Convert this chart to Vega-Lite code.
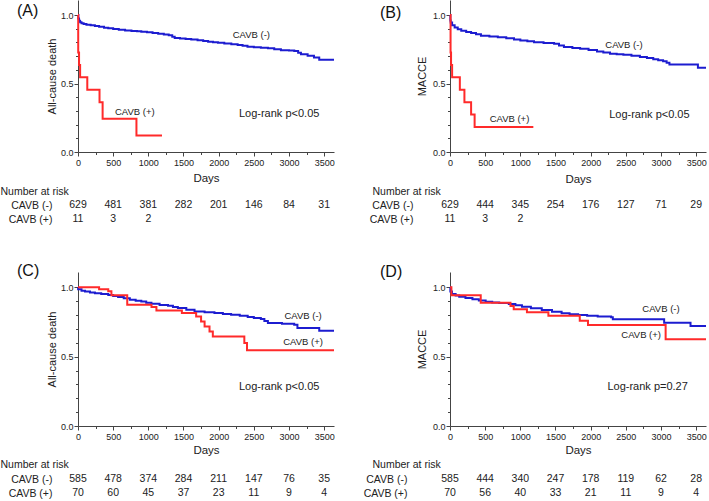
{
  "$schema": "https://vega.github.io/schema/vega-lite/v6.json",
  "padding": {"left": 0, "top": 0, "right": 0, "bottom": 0},
  "config": {
    "font": "Liberation Sans",
    "view": {"stroke": null},
    "axis": {"domainColor": "#444", "tickColor": "#444", "labelColor": "#222", "titleColor": "#222", "grid": false, "labelFontSize": 9, "titleFontWeight": "normal", "labelFont": "Liberation Sans", "titleFont": "Liberation Sans"},
    "title": {"font": "Liberation Sans", "fontWeight": "normal", "color": "#111"},
    "text": {"font": "Liberation Sans", "color": "#222"}
  },
  "datasets": {
    "kmA": [
      {"group": "CAVB (-)", "day": 0, "surv": 1.0}, {"group": "CAVB (-)", "day": 5, "surv": 0.975}, {"group": "CAVB (-)", "day": 15, "surv": 0.958}, {"group": "CAVB (-)", "day": 30, "surv": 0.947}, {"group": "CAVB (-)", "day": 50, "surv": 0.94}, {"group": "CAVB (-)", "day": 80, "surv": 0.935}, {"group": "CAVB (-)", "day": 120, "surv": 0.93}, {"group": "CAVB (-)", "day": 180, "surv": 0.925}, {"group": "CAVB (-)", "day": 240, "surv": 0.92}, {"group": "CAVB (-)", "day": 300, "surv": 0.914}, {"group": "CAVB (-)", "day": 370, "surv": 0.908}, {"group": "CAVB (-)", "day": 430, "surv": 0.903}, {"group": "CAVB (-)", "day": 500, "surv": 0.898}, {"group": "CAVB (-)", "day": 580, "surv": 0.893}, {"group": "CAVB (-)", "day": 670, "surv": 0.888}, {"group": "CAVB (-)", "day": 760, "surv": 0.884}, {"group": "CAVB (-)", "day": 840, "surv": 0.881}, {"group": "CAVB (-)", "day": 900, "surv": 0.878}, {"group": "CAVB (-)", "day": 980, "surv": 0.874}, {"group": "CAVB (-)", "day": 1060, "surv": 0.869}, {"group": "CAVB (-)", "day": 1140, "surv": 0.864}, {"group": "CAVB (-)", "day": 1220, "surv": 0.858}, {"group": "CAVB (-)", "day": 1290, "surv": 0.852}, {"group": "CAVB (-)", "day": 1340, "surv": 0.842}, {"group": "CAVB (-)", "day": 1375, "surv": 0.833}, {"group": "CAVB (-)", "day": 1450, "surv": 0.829}, {"group": "CAVB (-)", "day": 1530, "surv": 0.826}, {"group": "CAVB (-)", "day": 1610, "surv": 0.822}, {"group": "CAVB (-)", "day": 1700, "surv": 0.816}, {"group": "CAVB (-)", "day": 1780, "surv": 0.811}, {"group": "CAVB (-)", "day": 1850, "surv": 0.806}, {"group": "CAVB (-)", "day": 1920, "surv": 0.801}, {"group": "CAVB (-)", "day": 1990, "surv": 0.797}, {"group": "CAVB (-)", "day": 2080, "surv": 0.792}, {"group": "CAVB (-)", "day": 2180, "surv": 0.787}, {"group": "CAVB (-)", "day": 2270, "surv": 0.782}, {"group": "CAVB (-)", "day": 2340, "surv": 0.775}, {"group": "CAVB (-)", "day": 2410, "surv": 0.768}, {"group": "CAVB (-)", "day": 2500, "surv": 0.765}, {"group": "CAVB (-)", "day": 2600, "surv": 0.761}, {"group": "CAVB (-)", "day": 2700, "surv": 0.757}, {"group": "CAVB (-)", "day": 2790, "surv": 0.75}, {"group": "CAVB (-)", "day": 2885, "surv": 0.743}, {"group": "CAVB (-)", "day": 3000, "surv": 0.741}, {"group": "CAVB (-)", "day": 3075, "surv": 0.737}, {"group": "CAVB (-)", "day": 3130, "surv": 0.725}, {"group": "CAVB (-)", "day": 3170, "surv": 0.714}, {"group": "CAVB (-)", "day": 3265, "surv": 0.702}, {"group": "CAVB (-)", "day": 3355, "surv": 0.69}, {"group": "CAVB (-)", "day": 3430, "surv": 0.673}, {"group": "CAVB (-)", "day": 3640, "surv": 0.673},
      {"group": "CAVB (+)", "day": 0, "surv": 1.0}, {"group": "CAVB (+)", "day": 3, "surv": 0.727}, {"group": "CAVB (+)", "day": 15, "surv": 0.636}, {"group": "CAVB (+)", "day": 30, "surv": 0.545}, {"group": "CAVB (+)", "day": 132, "surv": 0.455}, {"group": "CAVB (+)", "day": 306, "surv": 0.364}, {"group": "CAVB (+)", "day": 350, "surv": 0.243}, {"group": "CAVB (+)", "day": 831, "surv": 0.121}, {"group": "CAVB (+)", "day": 1194, "surv": 0.121}
    ],
    "kmB": [
      {"group": "CAVB (-)", "day": 0, "surv": 1.0}, {"group": "CAVB (-)", "day": 5, "surv": 0.96}, {"group": "CAVB (-)", "day": 10, "surv": 0.945}, {"group": "CAVB (-)", "day": 30, "surv": 0.925}, {"group": "CAVB (-)", "day": 66, "surv": 0.91}, {"group": "CAVB (-)", "day": 110, "surv": 0.897}, {"group": "CAVB (-)", "day": 160, "surv": 0.885}, {"group": "CAVB (-)", "day": 230, "surv": 0.876}, {"group": "CAVB (-)", "day": 300, "surv": 0.869}, {"group": "CAVB (-)", "day": 370, "surv": 0.859}, {"group": "CAVB (-)", "day": 440, "surv": 0.849}, {"group": "CAVB (-)", "day": 560, "surv": 0.843}, {"group": "CAVB (-)", "day": 680, "surv": 0.838}, {"group": "CAVB (-)", "day": 800, "surv": 0.83}, {"group": "CAVB (-)", "day": 910, "surv": 0.821}, {"group": "CAVB (-)", "day": 1000, "surv": 0.815}, {"group": "CAVB (-)", "day": 1100, "surv": 0.808}, {"group": "CAVB (-)", "day": 1195, "surv": 0.802}, {"group": "CAVB (-)", "day": 1330, "surv": 0.796}, {"group": "CAVB (-)", "day": 1480, "surv": 0.79}, {"group": "CAVB (-)", "day": 1550, "surv": 0.778}, {"group": "CAVB (-)", "day": 1620, "surv": 0.766}, {"group": "CAVB (-)", "day": 1740, "surv": 0.76}, {"group": "CAVB (-)", "day": 1850, "surv": 0.754}, {"group": "CAVB (-)", "day": 1970, "surv": 0.745}, {"group": "CAVB (-)", "day": 2090, "surv": 0.734}, {"group": "CAVB (-)", "day": 2180, "surv": 0.726}, {"group": "CAVB (-)", "day": 2275, "surv": 0.718}, {"group": "CAVB (-)", "day": 2370, "surv": 0.714}, {"group": "CAVB (-)", "day": 2465, "surv": 0.711}, {"group": "CAVB (-)", "day": 2580, "surv": 0.703}, {"group": "CAVB (-)", "day": 2700, "surv": 0.694}, {"group": "CAVB (-)", "day": 2800, "surv": 0.686}, {"group": "CAVB (-)", "day": 2890, "surv": 0.677}, {"group": "CAVB (-)", "day": 2960, "surv": 0.67}, {"group": "CAVB (-)", "day": 3030, "surv": 0.663}, {"group": "CAVB (-)", "day": 3080, "surv": 0.652}, {"group": "CAVB (-)", "day": 3120, "surv": 0.639}, {"group": "CAVB (-)", "day": 3525, "surv": 0.615}, {"group": "CAVB (-)", "day": 3640, "surv": 0.615},
      {"group": "CAVB (+)", "day": 0, "surv": 1.0}, {"group": "CAVB (+)", "day": 8, "surv": 0.727}, {"group": "CAVB (+)", "day": 15, "surv": 0.636}, {"group": "CAVB (+)", "day": 30, "surv": 0.545}, {"group": "CAVB (+)", "day": 140, "surv": 0.455}, {"group": "CAVB (+)", "day": 205, "surv": 0.364}, {"group": "CAVB (+)", "day": 300, "surv": 0.273}, {"group": "CAVB (+)", "day": 350, "surv": 0.182}, {"group": "CAVB (+)", "day": 1185, "surv": 0.182}
    ],
    "kmC": [
      {"group": "CAVB (-)", "day": 0, "surv": 1.0}, {"group": "CAVB (-)", "day": 2, "surv": 0.985}, {"group": "CAVB (-)", "day": 50, "surv": 0.975}, {"group": "CAVB (-)", "day": 100, "surv": 0.969}, {"group": "CAVB (-)", "day": 170, "surv": 0.963}, {"group": "CAVB (-)", "day": 240, "surv": 0.957}, {"group": "CAVB (-)", "day": 330, "surv": 0.951}, {"group": "CAVB (-)", "day": 430, "surv": 0.945}, {"group": "CAVB (-)", "day": 500, "surv": 0.937}, {"group": "CAVB (-)", "day": 570, "surv": 0.929}, {"group": "CAVB (-)", "day": 650, "surv": 0.92}, {"group": "CAVB (-)", "day": 737, "surv": 0.91}, {"group": "CAVB (-)", "day": 820, "surv": 0.903}, {"group": "CAVB (-)", "day": 900, "surv": 0.897}, {"group": "CAVB (-)", "day": 970, "surv": 0.889}, {"group": "CAVB (-)", "day": 1044, "surv": 0.881}, {"group": "CAVB (-)", "day": 1160, "surv": 0.873}, {"group": "CAVB (-)", "day": 1280, "surv": 0.866}, {"group": "CAVB (-)", "day": 1350, "surv": 0.858}, {"group": "CAVB (-)", "day": 1420, "surv": 0.85}, {"group": "CAVB (-)", "day": 1540, "surv": 0.838}, {"group": "CAVB (-)", "day": 1657, "surv": 0.826}, {"group": "CAVB (-)", "day": 1800, "surv": 0.82}, {"group": "CAVB (-)", "day": 1940, "surv": 0.814}, {"group": "CAVB (-)", "day": 2060, "surv": 0.808}, {"group": "CAVB (-)", "day": 2177, "surv": 0.802}, {"group": "CAVB (-)", "day": 2300, "surv": 0.794}, {"group": "CAVB (-)", "day": 2413, "surv": 0.785}, {"group": "CAVB (-)", "day": 2500, "surv": 0.778}, {"group": "CAVB (-)", "day": 2600, "surv": 0.771}, {"group": "CAVB (-)", "day": 2650, "surv": 0.757}, {"group": "CAVB (-)", "day": 2700, "surv": 0.742}, {"group": "CAVB (-)", "day": 2900, "surv": 0.737}, {"group": "CAVB (-)", "day": 3074, "surv": 0.73}, {"group": "CAVB (-)", "day": 3120, "surv": 0.706}, {"group": "CAVB (-)", "day": 3430, "surv": 0.687}, {"group": "CAVB (-)", "day": 3640, "surv": 0.687},
      {"group": "CAVB (+)", "day": 0, "surv": 1.0}, {"group": "CAVB (+)", "day": 300, "surv": 0.986}, {"group": "CAVB (+)", "day": 430, "surv": 0.971}, {"group": "CAVB (+)", "day": 475, "surv": 0.943}, {"group": "CAVB (+)", "day": 700, "surv": 0.874}, {"group": "CAVB (+)", "day": 1045, "surv": 0.857}, {"group": "CAVB (+)", "day": 1115, "surv": 0.833}, {"group": "CAVB (+)", "day": 1477, "surv": 0.814}, {"group": "CAVB (+)", "day": 1680, "surv": 0.79}, {"group": "CAVB (+)", "day": 1750, "surv": 0.754}, {"group": "CAVB (+)", "day": 1800, "surv": 0.718}, {"group": "CAVB (+)", "day": 1870, "surv": 0.682}, {"group": "CAVB (+)", "day": 1917, "surv": 0.646}, {"group": "CAVB (+)", "day": 2365, "surv": 0.599}, {"group": "CAVB (+)", "day": 2403, "surv": 0.546}, {"group": "CAVB (+)", "day": 3640, "surv": 0.546}
    ],
    "kmD": [
      {"group": "CAVB (-)", "day": 0, "surv": 1.0}, {"group": "CAVB (-)", "day": 5, "surv": 0.97}, {"group": "CAVB (-)", "day": 28, "surv": 0.952}, {"group": "CAVB (-)", "day": 80, "surv": 0.94}, {"group": "CAVB (-)", "day": 131, "surv": 0.932}, {"group": "CAVB (-)", "day": 220, "surv": 0.922}, {"group": "CAVB (-)", "day": 319, "surv": 0.913}, {"group": "CAVB (-)", "day": 410, "surv": 0.905}, {"group": "CAVB (-)", "day": 507, "surv": 0.896}, {"group": "CAVB (-)", "day": 600, "surv": 0.89}, {"group": "CAVB (-)", "day": 700, "surv": 0.886}, {"group": "CAVB (-)", "day": 836, "surv": 0.88}, {"group": "CAVB (-)", "day": 930, "surv": 0.87}, {"group": "CAVB (-)", "day": 1023, "surv": 0.86}, {"group": "CAVB (-)", "day": 1150, "surv": 0.849}, {"group": "CAVB (-)", "day": 1305, "surv": 0.836}, {"group": "CAVB (-)", "day": 1450, "surv": 0.823}, {"group": "CAVB (-)", "day": 1587, "surv": 0.812}, {"group": "CAVB (-)", "day": 1700, "surv": 0.806}, {"group": "CAVB (-)", "day": 1822, "surv": 0.8}, {"group": "CAVB (-)", "day": 1950, "surv": 0.795}, {"group": "CAVB (-)", "day": 2100, "surv": 0.79}, {"group": "CAVB (-)", "day": 2291, "surv": 0.784}, {"group": "CAVB (-)", "day": 2315, "surv": 0.769}, {"group": "CAVB (-)", "day": 3045, "surv": 0.745}, {"group": "CAVB (-)", "day": 3420, "surv": 0.721}, {"group": "CAVB (-)", "day": 3640, "surv": 0.721},
      {"group": "CAVB (+)", "day": 0, "surv": 1.0}, {"group": "CAVB (+)", "day": 20, "surv": 0.943}, {"group": "CAVB (+)", "day": 437, "surv": 0.889}, {"group": "CAVB (+)", "day": 860, "surv": 0.865}, {"group": "CAVB (+)", "day": 906, "surv": 0.841}, {"group": "CAVB (+)", "day": 1094, "surv": 0.82}, {"group": "CAVB (+)", "day": 1399, "surv": 0.795}, {"group": "CAVB (+)", "day": 1845, "surv": 0.759}, {"group": "CAVB (+)", "day": 1962, "surv": 0.728}, {"group": "CAVB (+)", "day": 3066, "surv": 0.625}, {"group": "CAVB (+)", "day": 3640, "surv": 0.625}
    ],
    "labA": [{"day": 2465, "surv": 0.857, "text": "CAVB (-)"}, {"day": 807, "surv": 0.29, "text": "CAVB (+)"}],
    "lrA": [{"day": 2860, "surv": 0.276, "text": "Log-rank  p<0.05"}],
    "labB": [{"day": 2473, "surv": 0.785, "text": "CAVB (-)"}, {"day": 846, "surv": 0.239, "text": "CAVB (+)"}],
    "lrB": [{"day": 2835, "surv": 0.27, "text": "Log-rank  p<0.05"}],
    "labC": [{"day": 3200, "surv": 0.79, "text": "CAVB (-)"}, {"day": 3200, "surv": 0.603, "text": "CAVB (+)"}],
    "lrC": [{"day": 2860, "surv": 0.283, "text": "Log-rank  p<0.05"}],
    "labD": [{"day": 3000, "surv": 0.841, "text": "CAVB (-)"}, {"day": 2718, "surv": 0.656, "text": "CAVB (+)"}],
    "lrD": [{"day": 2810, "surv": 0.279, "text": "Log-rank  p=0.27"}],
    "riskA": [
      {"group": "CAVB (-)", "day": 0, "n": 629}, {"group": "CAVB (-)", "day": 500, "n": 481}, {"group": "CAVB (-)", "day": 1000, "n": 381}, {"group": "CAVB (-)", "day": 1500, "n": 282}, {"group": "CAVB (-)", "day": 2000, "n": 201}, {"group": "CAVB (-)", "day": 2500, "n": 146}, {"group": "CAVB (-)", "day": 3000, "n": 84}, {"group": "CAVB (-)", "day": 3500, "n": 31},
      {"group": "CAVB (+)", "day": 0, "n": 11}, {"group": "CAVB (+)", "day": 500, "n": 3}, {"group": "CAVB (+)", "day": 1000, "n": 2}
    ],
    "riskB": [
      {"group": "CAVB (-)", "day": 0, "n": 629}, {"group": "CAVB (-)", "day": 500, "n": 444}, {"group": "CAVB (-)", "day": 1000, "n": 345}, {"group": "CAVB (-)", "day": 1500, "n": 254}, {"group": "CAVB (-)", "day": 2000, "n": 176}, {"group": "CAVB (-)", "day": 2500, "n": 127}, {"group": "CAVB (-)", "day": 3000, "n": 71}, {"group": "CAVB (-)", "day": 3500, "n": 29},
      {"group": "CAVB (+)", "day": 0, "n": 11}, {"group": "CAVB (+)", "day": 500, "n": 3}, {"group": "CAVB (+)", "day": 1000, "n": 2}
    ],
    "riskC": [
      {"group": "CAVB (-)", "day": 0, "n": 585}, {"group": "CAVB (-)", "day": 500, "n": 478}, {"group": "CAVB (-)", "day": 1000, "n": 374}, {"group": "CAVB (-)", "day": 1500, "n": 284}, {"group": "CAVB (-)", "day": 2000, "n": 211}, {"group": "CAVB (-)", "day": 2500, "n": 147}, {"group": "CAVB (-)", "day": 3000, "n": 76}, {"group": "CAVB (-)", "day": 3500, "n": 35},
      {"group": "CAVB (+)", "day": 0, "n": 70}, {"group": "CAVB (+)", "day": 500, "n": 60}, {"group": "CAVB (+)", "day": 1000, "n": 45}, {"group": "CAVB (+)", "day": 1500, "n": 37}, {"group": "CAVB (+)", "day": 2000, "n": 23}, {"group": "CAVB (+)", "day": 2500, "n": 11}, {"group": "CAVB (+)", "day": 3000, "n": 9}, {"group": "CAVB (+)", "day": 3500, "n": 4}
    ],
    "riskD": [
      {"group": "CAVB (-)", "day": 0, "n": 585}, {"group": "CAVB (-)", "day": 500, "n": 444}, {"group": "CAVB (-)", "day": 1000, "n": 340}, {"group": "CAVB (-)", "day": 1500, "n": 247}, {"group": "CAVB (-)", "day": 2000, "n": 178}, {"group": "CAVB (-)", "day": 2500, "n": 119}, {"group": "CAVB (-)", "day": 3000, "n": 62}, {"group": "CAVB (-)", "day": 3500, "n": 28},
      {"group": "CAVB (+)", "day": 0, "n": 70}, {"group": "CAVB (+)", "day": 500, "n": 56}, {"group": "CAVB (+)", "day": 1000, "n": 40}, {"group": "CAVB (+)", "day": 1500, "n": 33}, {"group": "CAVB (+)", "day": 2000, "n": 21}, {"group": "CAVB (+)", "day": 2500, "n": 11}, {"group": "CAVB (+)", "day": 3000, "n": 9}, {"group": "CAVB (+)", "day": 3500, "n": 4}
    ]
  },
  "columns": 2,
  "spacing": {"row": 46, "column": 116},
  "bounds": "flush",
  "concat": [
    {
      "width": 256, "height": 152,
      "title": {"text": "(A)", "anchor": "start", "frame": "group", "fontSize": 16, "baseline": "middle", "dx": -61, "offset": -27},
      "encoding": {
        "x": {"field": "day", "type": "quantitative", "scale": {"domain": [0, 3640], "nice": false, "zero": false}, "axis": {"title": "Days", "titleFontSize": 11.5, "values": [0, 250, 500, 750, 1000, 1250, 1500, 1750, 2000, 2250, 2500, 2750, 3000, 3250, 3500], "format": "d", "labelExpr": "datum.value % 500 === 0 ? datum.label : ''", "tickSize": {"condition": {"test": "datum.value % 500 === 0", "value": 4}, "value": 2.5}, "labelFlush": false, "labelOverlap": false, "labelPadding": 2, "titlePadding": 5}},
        "y": {"field": "surv", "type": "quantitative", "scale": {"domain": [0, 1.11], "nice": false, "zero": false}, "axis": {"title": "All-cause death", "titleFontSize": 11, "values": [0, 0.1, 0.2, 0.3, 0.4, 0.5, 0.6, 0.7, 0.8, 0.9, 1.0], "format": ".1f", "labelExpr": "(datum.value === 0 || datum.value === 0.5 || datum.value === 1) ? datum.label : ''", "tickSize": {"condition": {"test": "datum.value === 0 || datum.value === 0.5 || datum.value === 1", "value": 4}, "value": 2.5}, "labelFlush": false, "labelOverlap": false, "labelPadding": 1, "titlePadding": 3}}
      },
      "layer": [
        {"data": {"name": "kmA"}, "mark": {"type": "line", "interpolate": "step-after", "strokeWidth": 2}, "encoding": {"color": {"field": "group", "type": "nominal", "scale": {"domain": ["CAVB (-)", "CAVB (+)"], "range": ["#1c1cd0", "#ff2a2a"]}, "legend": null}}},
        {"data": {"name": "labA"}, "mark": {"type": "text", "fontSize": 9.5}, "encoding": {"text": {"field": "text"}}},
        {"data": {"name": "lrA"}, "mark": {"type": "text", "fontSize": 11}, "encoding": {"text": {"field": "text"}}}
      ]
    },
    {
      "width": 256, "height": 152,
      "title": {"text": "(B)", "anchor": "start", "frame": "group", "fontSize": 16, "baseline": "middle", "dx": -70, "offset": -29},
      "encoding": {
        "x": {"field": "day", "type": "quantitative", "scale": {"domain": [0, 3640], "nice": false, "zero": false}, "axis": {"title": "Days", "titleFontSize": 11.5, "values": [0, 250, 500, 750, 1000, 1250, 1500, 1750, 2000, 2250, 2500, 2750, 3000, 3250, 3500], "format": "d", "labelExpr": "datum.value % 500 === 0 ? datum.label : ''", "tickSize": {"condition": {"test": "datum.value % 500 === 0", "value": 4}, "value": 2.5}, "labelFlush": false, "labelOverlap": false, "labelPadding": 2, "titlePadding": 6}},
        "y": {"field": "surv", "type": "quantitative", "scale": {"domain": [0, 1.11], "nice": false, "zero": false}, "axis": {"title": "MACCE", "titleFontSize": 11, "values": [0, 0.1, 0.2, 0.3, 0.4, 0.5, 0.6, 0.7, 0.8, 0.9, 1.0], "format": ".1f", "labelExpr": "(datum.value === 0 || datum.value === 0.5 || datum.value === 1) ? datum.label : ''", "tickSize": {"condition": {"test": "datum.value === 0 || datum.value === 0.5 || datum.value === 1", "value": 4}, "value": 2.5}, "labelFlush": false, "labelOverlap": false, "labelPadding": 1, "titlePadding": 5}}
      },
      "layer": [
        {"data": {"name": "kmB"}, "mark": {"type": "line", "interpolate": "step-after", "strokeWidth": 2}, "encoding": {"color": {"field": "group", "type": "nominal", "scale": {"domain": ["CAVB (-)", "CAVB (+)"], "range": ["#1c1cd0", "#ff2a2a"]}, "legend": null}}},
        {"data": {"name": "labB"}, "mark": {"type": "text", "fontSize": 9.5}, "encoding": {"text": {"field": "text"}}},
        {"data": {"name": "lrB"}, "mark": {"type": "text", "fontSize": 11}, "encoding": {"text": {"field": "text"}}}
      ]
    },
    {
      "width": 256, "height": 28,
      "data": {"name": "riskA"},
      "mark": {"type": "text", "fontSize": 10.5},
      "encoding": {
        "x": {"field": "day", "type": "quantitative", "scale": {"domain": [0, 3640], "nice": false, "zero": false}, "axis": null},
        "y": {"field": "group", "type": "nominal", "sort": ["CAVB (-)", "CAVB (+)"], "axis": {"domain": false, "ticks": false, "labelPadding": 26, "labelFontSize": 10.5, "title": "Number at risk", "titleAngle": 0, "titleAlign": "left", "titleBaseline": "middle", "titleX": -78, "titleY": -7, "titleFontSize": 10.5}},
        "text": {"field": "n", "type": "quantitative"}
      }
    },
    {
      "width": 256, "height": 28,
      "data": {"name": "riskB"},
      "mark": {"type": "text", "fontSize": 10.5},
      "encoding": {
        "x": {"field": "day", "type": "quantitative", "scale": {"domain": [0, 3640], "nice": false, "zero": false}, "axis": null},
        "y": {"field": "group", "type": "nominal", "sort": ["CAVB (-)", "CAVB (+)"], "axis": {"domain": false, "ticks": false, "labelPadding": 37, "labelFontSize": 10.5, "title": "Number at risk", "titleAngle": 0, "titleAlign": "left", "titleBaseline": "middle", "titleX": -78, "titleY": -7, "titleFontSize": 10.5}},
        "text": {"field": "n", "type": "quantitative"}
      }
    },
    {
      "width": 256, "height": 154,
      "title": {"text": "(C)", "anchor": "start", "frame": "group", "fontSize": 16, "baseline": "middle", "dx": -61, "offset": -15},
      "encoding": {
        "x": {"field": "day", "type": "quantitative", "scale": {"domain": [0, 3640], "nice": false, "zero": false}, "axis": {"title": "Days", "titleFontSize": 11.5, "values": [0, 250, 500, 750, 1000, 1250, 1500, 1750, 2000, 2250, 2500, 2750, 3000, 3250, 3500], "format": "d", "labelExpr": "datum.value % 500 === 0 ? datum.label : ''", "tickSize": {"condition": {"test": "datum.value % 500 === 0", "value": 4}, "value": 2.5}, "labelFlush": false, "labelOverlap": false, "labelPadding": 2, "titlePadding": 3}},
        "y": {"field": "surv", "type": "quantitative", "scale": {"domain": [0, 1.11], "nice": false, "zero": false}, "axis": {"title": "All-cause death", "titleFontSize": 11, "values": [0, 0.1, 0.2, 0.3, 0.4, 0.5, 0.6, 0.7, 0.8, 0.9, 1.0], "format": ".1f", "labelExpr": "(datum.value === 0 || datum.value === 0.5 || datum.value === 1) ? datum.label : ''", "tickSize": {"condition": {"test": "datum.value === 0 || datum.value === 0.5 || datum.value === 1", "value": 4}, "value": 2.5}, "labelFlush": false, "labelOverlap": false, "labelPadding": 1, "titlePadding": 3}}
      },
      "layer": [
        {"data": {"name": "kmC"}, "mark": {"type": "line", "interpolate": "step-after", "strokeWidth": 2}, "encoding": {"color": {"field": "group", "type": "nominal", "scale": {"domain": ["CAVB (-)", "CAVB (+)"], "range": ["#1c1cd0", "#ff2a2a"]}, "legend": null}}},
        {"data": {"name": "labC"}, "mark": {"type": "text", "fontSize": 9.5}, "encoding": {"text": {"field": "text"}}},
        {"data": {"name": "lrC"}, "mark": {"type": "text", "fontSize": 11}, "encoding": {"text": {"field": "text"}}}
      ]
    },
    {
      "width": 256, "height": 154,
      "title": {"text": "(D)", "anchor": "start", "frame": "group", "fontSize": 16, "baseline": "middle", "dx": -70, "offset": -16},
      "encoding": {
        "x": {"field": "day", "type": "quantitative", "scale": {"domain": [0, 3640], "nice": false, "zero": false}, "axis": {"title": "Days", "titleFontSize": 11.5, "values": [0, 250, 500, 750, 1000, 1250, 1500, 1750, 2000, 2250, 2500, 2750, 3000, 3250, 3500], "format": "d", "labelExpr": "datum.value % 500 === 0 ? datum.label : ''", "tickSize": {"condition": {"test": "datum.value % 500 === 0", "value": 4}, "value": 2.5}, "labelFlush": false, "labelOverlap": false, "labelPadding": 2, "titlePadding": 3}},
        "y": {"field": "surv", "type": "quantitative", "scale": {"domain": [0, 1.11], "nice": false, "zero": false}, "axis": {"title": "MACCE", "titleFontSize": 11, "values": [0, 0.1, 0.2, 0.3, 0.4, 0.5, 0.6, 0.7, 0.8, 0.9, 1.0], "format": ".1f", "labelExpr": "(datum.value === 0 || datum.value === 0.5 || datum.value === 1) ? datum.label : ''", "tickSize": {"condition": {"test": "datum.value === 0 || datum.value === 0.5 || datum.value === 1", "value": 4}, "value": 2.5}, "labelFlush": false, "labelOverlap": false, "labelPadding": 1, "titlePadding": 5}}
      },
      "layer": [
        {"data": {"name": "kmD"}, "mark": {"type": "line", "interpolate": "step-after", "strokeWidth": 2}, "encoding": {"color": {"field": "group", "type": "nominal", "scale": {"domain": ["CAVB (-)", "CAVB (+)"], "range": ["#1c1cd0", "#ff2a2a"]}, "legend": null}}},
        {"data": {"name": "labD"}, "mark": {"type": "text", "fontSize": 9.5}, "encoding": {"text": {"field": "text"}}},
        {"data": {"name": "lrD"}, "mark": {"type": "text", "fontSize": 11}, "encoding": {"text": {"field": "text"}}}
      ]
    },
    {
      "width": 256, "height": 28,
      "data": {"name": "riskC"},
      "mark": {"type": "text", "fontSize": 10.5},
      "encoding": {
        "x": {"field": "day", "type": "quantitative", "scale": {"domain": [0, 3640], "nice": false, "zero": false}, "axis": null},
        "y": {"field": "group", "type": "nominal", "sort": ["CAVB (-)", "CAVB (+)"], "axis": {"domain": false, "ticks": false, "labelPadding": 26, "labelFontSize": 10.5, "title": "Number at risk", "titleAngle": 0, "titleAlign": "left", "titleBaseline": "middle", "titleX": -78, "titleY": -8, "titleFontSize": 10.5}},
        "text": {"field": "n", "type": "quantitative"}
      }
    },
    {
      "width": 256, "height": 28,
      "data": {"name": "riskD"},
      "mark": {"type": "text", "fontSize": 10.5},
      "encoding": {
        "x": {"field": "day", "type": "quantitative", "scale": {"domain": [0, 3640], "nice": false, "zero": false}, "axis": null},
        "y": {"field": "group", "type": "nominal", "sort": ["CAVB (-)", "CAVB (+)"], "axis": {"domain": false, "ticks": false, "labelPadding": 43, "labelFontSize": 10.5, "title": "Number at risk", "titleAngle": 0, "titleAlign": "left", "titleBaseline": "middle", "titleX": -78, "titleY": -8, "titleFontSize": 10.5}},
        "text": {"field": "n", "type": "quantitative"}
      }
    }
  ]
}
